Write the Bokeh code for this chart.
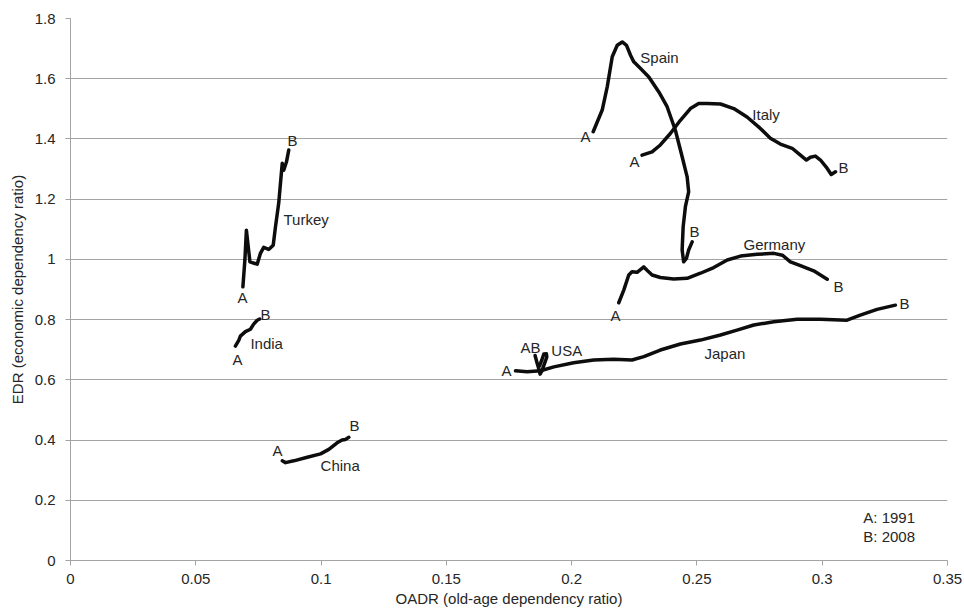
from bokeh.plotting import figure
from bokeh.models import FixedTicker, CustomJSTickFormatter, Range1d
from bokeh.core.properties import value
from bokeh.embed import file_html
from bokeh.resources import INLINE

# ---- data (OADR, EDR) ----
turkey_x = [0.0688, 0.0696, 0.0702, 0.0716, 0.0745, 0.0758, 0.0771, 0.0791, 0.0809, 0.0818, 0.0831, 0.0845, 0.0851, 0.0862, 0.0871]
turkey_y = [0.909, 0.998, 1.097, 0.992, 0.984, 1.020, 1.040, 1.033, 1.047, 1.108, 1.187, 1.319, 1.296, 1.324, 1.363]

india_x = [0.0658, 0.0672, 0.0678, 0.0698, 0.0718, 0.0731, 0.0745, 0.0755]
india_y = [0.712, 0.732, 0.745, 0.760, 0.768, 0.785, 0.798, 0.802]

china_x = [0.0845, 0.0858, 0.0891, 0.0945, 0.0998, 0.1031, 0.1064, 0.1084, 0.1097, 0.1111]
china_y = [0.331, 0.325, 0.331, 0.343, 0.354, 0.369, 0.391, 0.400, 0.402, 0.409]

spain_x = [0.2086, 0.2122, 0.2142, 0.2162, 0.2182, 0.2202, 0.2219, 0.2235, 0.2248, 0.2275, 0.2308, 0.2348,
           0.2381, 0.2414, 0.2441, 0.2461, 0.2467, 0.2454, 0.2445, 0.2441, 0.2447, 0.2458, 0.2467, 0.2481]
spain_y = [1.424, 1.496, 1.573, 1.673, 1.711, 1.722, 1.711, 1.678, 1.656, 1.634, 1.606, 1.556,
           1.507, 1.429, 1.341, 1.274, 1.224, 1.175, 1.108, 1.031, 0.992, 1.003, 1.031, 1.058]

italy_x = [0.2281, 0.2321, 0.2354, 0.2394, 0.2434, 0.2474, 0.2507, 0.2541, 0.2594, 0.2647, 0.2700, 0.2753,
           0.2793, 0.2833, 0.2880, 0.2913, 0.2937, 0.2953, 0.2973, 0.2993, 0.3020, 0.3036, 0.3053]
italy_y = [1.346, 1.357, 1.380, 1.418, 1.462, 1.501, 1.518, 1.518, 1.516, 1.501, 1.473, 1.435,
           1.402, 1.383, 1.369, 1.346, 1.330, 1.339, 1.343, 1.330, 1.302, 1.282, 1.291]

germany_x = [0.2188, 0.2208, 0.2228, 0.2241, 0.2261, 0.2288, 0.2301, 0.2321, 0.2354, 0.2407, 0.2461,
             0.2514, 0.2567, 0.2621, 0.2674, 0.2740, 0.2807, 0.2841, 0.2873, 0.2913, 0.2966, 0.3020]
germany_y = [0.856, 0.898, 0.948, 0.959, 0.957, 0.975, 0.964, 0.948, 0.940, 0.935, 0.937,
             0.954, 0.973, 0.998, 1.011, 1.017, 1.020, 1.014, 0.992, 0.979, 0.962, 0.934]

japan_x = [0.1776, 0.1822, 0.1876, 0.1929, 0.2008, 0.2088, 0.2168, 0.2241, 0.2288, 0.2354, 0.2434,
           0.2514, 0.2594, 0.2660, 0.2727, 0.2807, 0.2900, 0.2993, 0.3099, 0.3152, 0.3219, 0.3292]
japan_y = [0.630, 0.627, 0.630, 0.643, 0.657, 0.666, 0.668, 0.666, 0.677, 0.699, 0.719,
           0.732, 0.749, 0.765, 0.782, 0.793, 0.801, 0.801, 0.798, 0.815, 0.834, 0.848]

usa_x = [0.1854, 0.1860, 0.1868, 0.1874, 0.1881, 0.1891, 0.1901, 0.1899, 0.1889, 0.1881, 0.1872, 0.1862, 0.1857]
usa_y = [0.681, 0.662, 0.639, 0.619, 0.629, 0.652, 0.676, 0.687, 0.686, 0.666, 0.646, 0.656, 0.672]

# ---- annotation texts ----
country_names = ["Turkey", "India", "China", "Spain", "Italy", "Germany", "Japan", "USA"]
name_x = [0.0850, 0.0718, 0.0998, 0.2274, 0.2721, 0.2686, 0.2530, 0.1919]
name_y = [1.131, 0.722, 0.317, 1.672, 1.482, 1.048, 0.689, 0.699]

marker_text = ["A", "B", "A", "B", "A", "B", "A", "B", "A", "B", "A", "B", "A", "B", "AB"]
marker_x = [0.0686, 0.0886, 0.0666, 0.0778, 0.0826, 0.1133, 0.2055, 0.2490, 0.2251, 0.3085, 0.2175, 0.3065, 0.1740, 0.3328, 0.1836]
marker_y = [0.875, 1.396, 0.669, 0.818, 0.364, 0.447, 1.409, 1.091, 1.326, 1.306, 0.815, 0.911, 0.632, 0.852, 0.706]

legend_text = ["A: 1991", "B: 2008"]
legend_x = [0.3164, 0.3164]
legend_y = [0.144, 0.081]

x_ticks = [0, 0.05, 0.1, 0.15, 0.2, 0.25, 0.3, 0.35]
y_ticks = [0, 0.2, 0.4, 0.6, 0.8, 1, 1.2, 1.4, 1.6, 1.8]

FONT = "Liberation Sans"
FS = "15px"
TEXT_COLOR = "#262626"
GRID = "#a3a3a3"

p = figure(width=964, height=611, output_backend="svg", toolbar_location=None,
           x_range=Range1d(0, 0.35), y_range=Range1d(0, 1.8),
           min_border_left=70, min_border_right=17, min_border_top=18, min_border_bottom=51)
p.outline_line_color = None
p.background_fill_color = "white"
p.border_fill_color = "white"

fmt = CustomJSTickFormatter(code="return String(Math.round(tick*100)/100);")
for ax, ticks in ((p.xaxis[0], x_ticks), (p.yaxis[0], y_ticks)):
    ax.ticker = FixedTicker(ticks=ticks)
    ax.formatter = fmt
    ax.axis_line_color = GRID
    ax.major_tick_line_color = GRID
    ax.major_tick_in = 0
    ax.major_tick_out = 5
    ax.minor_tick_line_color = None
    ax.major_label_text_font = FONT
    ax.major_label_text_font_size = FS
    ax.major_label_text_color = TEXT_COLOR
    ax.axis_label_text_font = FONT
    ax.axis_label_text_font_size = FS
    ax.axis_label_text_font_style = "normal"
    ax.axis_label_text_color = TEXT_COLOR

p.xaxis.axis_label = "OADR (old-age dependency ratio)"
p.yaxis.axis_label = "EDR (economic dependency ratio)"
p.xaxis.major_label_standoff = 8
p.yaxis.major_label_standoff = 10
p.xaxis.axis_label_standoff = 3
p.yaxis.axis_label_standoff = 6

p.xgrid.grid_line_color = None
p.ygrid.ticker = FixedTicker(ticks=y_ticks)
p.ygrid.grid_line_color = GRID
p.ygrid.grid_line_width = 1

series = [(turkey_x, turkey_y), (india_x, india_y), (china_x, china_y), (spain_x, spain_y),
          (italy_x, italy_y), (germany_x, germany_y), (japan_x, japan_y), (usa_x, usa_y)]
for xs, ys in series:
    p.line(xs, ys, line_width=3.5, line_color="#0d0d0d", line_join="round", line_cap="round")

p.text(x=name_x, y=name_y, text=country_names, text_font=value(FONT), text_font_size=FS,
       text_color=TEXT_COLOR, text_align="left", text_baseline="middle")
p.text(x=marker_x, y=marker_y, text=marker_text, text_font=value(FONT), text_font_size=FS,
       text_color=TEXT_COLOR, text_align="center", text_baseline="middle")
p.text(x=legend_x, y=legend_y, text=legend_text, text_font=value(FONT), text_font_size=FS,
       text_color=TEXT_COLOR, text_align="left", text_baseline="middle")

open("out.html", "w").write(file_html(p, INLINE))
